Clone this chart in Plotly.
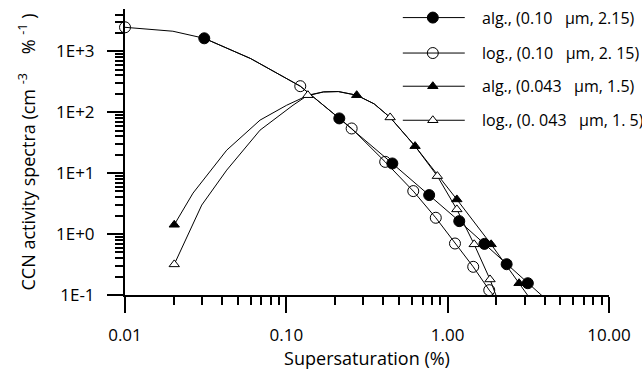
import plotly.graph_objects as go

# ---------------- data ----------------
S_tickvals = [0.01, 0.1, 1, 10]
S_ticktext = ["0.01", "0.10", "1.00", "10.00"]
N_tickvals = [0.1, 1, 10, 100, 1000]
N_ticktext = ["1E-1", "1E+0", "1E+1", "1E+2", "1E+3"]

# alg., (0.10 um, 2.15)  - filled circles
alg010_S = [0.031, 0.213, 0.454, 0.768, 1.18, 1.69, 2.32, 3.14]
alg010_N = [1630, 79, 14.4, 4.36, 1.63, 0.69, 0.32, 0.156]
alg010_curve_S = [0.031, 0.06, 0.122, 0.213, 0.454, 0.768, 1.18, 1.69, 2.32, 3.14, 4.5]
alg010_curve_N = [1630, 760, 267, 79, 14.4, 4.36, 1.63, 0.69, 0.32, 0.156, 0.067]

# log., (0.10 um, 2.15) - open circles
log010_S = [0.01, 0.122, 0.254, 0.41, 0.612, 0.844, 1.11, 1.44, 1.81]
log010_N = [2470, 267, 54, 15.3, 5.07, 1.85, 0.70, 0.29, 0.12]
log010_curve_S = [0.01, 0.0198, 0.031, 0.06, 0.122, 0.254, 0.41, 0.612, 0.844, 1.11, 1.44, 1.81, 1.95]
log010_curve_N = [2470, 2130, 1630, 760, 267, 54, 15.3, 5.07, 1.85, 0.70, 0.29, 0.12, 0.095]

# alg., (0.043 um, 1.5) - filled triangles
alg043_S = [0.0202, 0.273, 0.628, 1.14, 1.86, 2.77]
alg043_N = [1.42, 190, 27.7, 3.7, 0.678, 0.156]
alg043_curve_S = [0.0202, 0.0264, 0.0427, 0.0687, 0.1005, 0.134, 0.17, 0.21, 0.273, 0.35, 0.44, 0.628, 1.14, 1.86, 2.77, 3.6]
alg043_curve_N = [1.42, 4.7, 23.8, 74, 130, 185, 215, 218, 190, 137, 82, 27.7, 3.7, 0.678, 0.156, 0.059]

# log., (0.043 um, 1.5) - open triangles
log043_S = [0.0202, 0.136, 0.44, 0.863, 1.14, 1.46, 1.83]
log043_N = [0.318, 190, 82, 8.93, 2.54, 0.678, 0.18]
log043_curve_S = [0.0202, 0.0299, 0.0427, 0.0687, 0.110, 0.136, 0.17, 0.21, 0.273, 0.35, 0.44, 0.628, 0.863, 1.14, 1.46, 1.83, 1.99]
log043_curve_N = [0.318, 2.99, 11.2, 50.7, 130, 190, 215, 218, 190, 137, 82, 27.7, 8.93, 2.54, 0.678, 0.18, 0.1]

legend_labels = [
    "alg., (0.10\u00a0\u00a0\u00a0µm, 2.15)",
    "log., (0.10\u00a0\u00a0\u00a0µm, 2. 15)",
    "alg., (0.043\u00a0\u00a0\u00a0µm, 1.5)",
    "log., (0. 043\u00a0\u00a0\u00a0µm, 1. 5)",
]

# ---------------- styles ----------------
FONT = "Open Sans"
series = [
    (alg010_S, alg010_N, alg010_curve_S, alg010_curve_N, "circle", 11, "black"),
    (log010_S, log010_N, log010_curve_S, log010_curve_N, "circle-open", 11, "black"),
    (alg043_S, alg043_N, alg043_curve_S, alg043_curve_N, "triangle-up", 9, "black"),
    (log043_S, log043_N, log043_curve_S, log043_curve_N, "triangle-up", 9, "white"),
]

fig = go.Figure()

for ms, mn, cs, cn, sym, size, fill in series:
    fig.add_trace(go.Scatter(x=cs, y=cn, mode="lines",
                             line=dict(color="black", width=1),
                             showlegend=False, hoverinfo="skip"))
for ms, mn, cs, cn, sym, size, fill in series:
    fig.add_trace(go.Scatter(
        x=ms, y=mn, mode="markers", cliponaxis=False, showlegend=False,
        marker=dict(symbol=sym, size=size, color=fill,
                    line=dict(color="black", width=1))))

# manual legend on an overlay axis (0..1 spans the plot area)
leg_x0, leg_xm, leg_x1, leg_tx = 0.574, 0.636, 0.702, 0.733
leg_rows = [0.970, 0.846, 0.730, 0.611]
for (ms, mn, cs, cn, sym, size, fill), yr, lab in zip(series, leg_rows, legend_labels):
    fig.add_trace(go.Scatter(x=[leg_x0, leg_x1], y=[yr, yr], mode="lines",
                             xaxis="x2", yaxis="y2", cliponaxis=False,
                             line=dict(color="black", width=1), showlegend=False,
                             hoverinfo="skip"))
    fig.add_trace(go.Scatter(x=[leg_xm], y=[yr], mode="markers",
                             xaxis="x2", yaxis="y2", cliponaxis=False,
                             marker=dict(symbol=sym, size=size, color=fill,
                                         line=dict(color="black", width=1)),
                             showlegend=False, hoverinfo="skip"))
    fig.add_annotation(x=leg_tx, y=yr, xref="x2", yref="y2", text=lab,
                       showarrow=False, xanchor="left", yanchor="middle",
                       font=dict(family=FONT, size=16, color="black"))

minor_x = [k * 10 ** e for e in range(-2, 1) for k in range(2, 10)]
minor_y = [k * 10 ** e for e in range(-1, 4) for k in range(2, 10)]

axis_common = dict(
    type="log", showline=True, linecolor="black", linewidth=2,
    ticks="outside", ticklen=16, tickwidth=2, tickcolor="black",
    showgrid=False, zeroline=False, mirror=False,
    tickfont=dict(family=FONT, size=17, color="black"),
)

fig.update_layout(
    width=642, height=379,
    margin=dict(l=125, r=33, t=9, b=84, pad=0),
    paper_bgcolor="white", plot_bgcolor="white",
    showlegend=False,
    xaxis=dict(**axis_common, range=[-2, 1], tickmode="array",
               tickvals=S_tickvals, ticktext=S_ticktext, ticklabelstandoff=8,
               minor=dict(tickmode="array", tickvals=minor_x, ticks="outside",
                          ticklen=8, tickwidth=1.5, tickcolor="black", showgrid=False),
               title=dict(text="Supersaturation (%)", standoff=4,
                          font=dict(family=FONT, size=18, color="black"))),
    yaxis=dict(**axis_common, range=[-1, 3.693], tickmode="array",
               tickvals=N_tickvals, ticktext=N_ticktext, ticklabelstandoff=9,
               minor=dict(tickmode="array", tickvals=minor_y, ticks="outside",
                          ticklen=8, tickwidth=1.5, tickcolor="black", showgrid=False),
               title=dict(text="CCN activity spectra (cm <sup>-3</sup>\u00a0\u00a0\u00a0\u00a0% <sup>-1</sup>\u00a0)",
                          standoff=16,
                          font=dict(family=FONT, size=18, color="black"))),
    xaxis2=dict(domain=[0, 1], range=[0, 1], visible=False, overlaying="x", anchor="y2"),
    yaxis2=dict(domain=[0, 1], range=[0, 1], visible=False, overlaying="y", anchor="x2"),
)

fig.write_html("out.html")
